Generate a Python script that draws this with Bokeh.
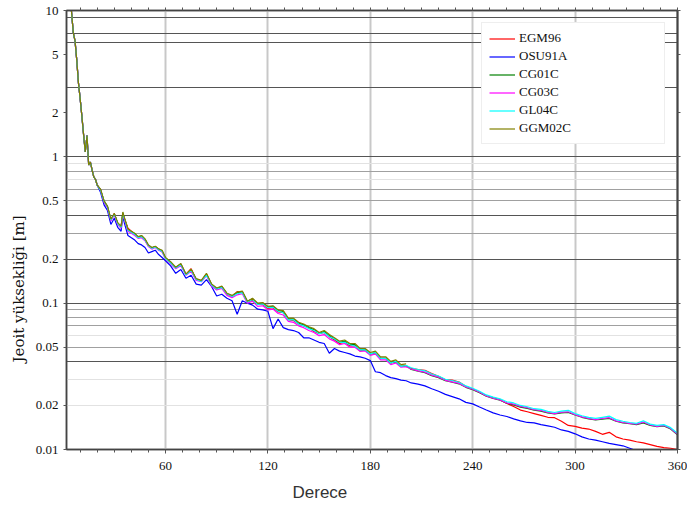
from bokeh.plotting import figure
from bokeh.models import (FixedTicker, LinearAxis, LogAxis, Grid, Legend, LegendItem,
                          Title, Range1d, CustomJSTickFormatter)
from bokeh.embed import file_html
from bokeh.resources import INLINE

# ---------------- data ----------------
deg_low = [2, 3, 4, 5, 6, 7, 8, 9, 10, 11, 12, 13, 14, 15, 16, 17, 18, 19, 20]
val_low = [40, 25, 14, 9.6, 7.0, 6.2, 4.6, 3.2, 2.5, 1.9, 1.42, 1.08, 1.4, 0.88, 0.92,
           0.81, 0.73, 0.70, 0.64]

deg_mid = [22, 24, 26, 28, 30, 32, 34, 35, 36, 38, 40, 42, 44, 46, 48, 50, 52, 54, 56, 58, 60,
           63, 66, 69, 72, 75, 78, 81, 84, 87, 90, 93, 96, 99, 102, 105, 108, 111, 114, 117, 120,
           123, 126, 129, 132, 135, 138, 141, 144, 147, 150, 153, 156, 159, 162, 165, 168, 171,
           174, 177, 180, 183, 186, 189, 192, 195, 198, 201]
deg_high = [204, 208, 212, 216, 220, 224, 228, 232, 236, 240, 244, 248, 252, 256, 260, 264,
            268, 272, 276, 280, 284, 288, 292, 296, 300, 304, 308, 312, 316, 320, 324, 328,
            332, 336, 340, 344, 348, 352, 356, 360]

egm96 = [0.595, 0.49, 0.455, 0.37, 0.41, 0.35, 0.335, 0.41, 0.38, 0.325, 0.31, 0.295, 0.28,
         0.285, 0.27, 0.245, 0.238, 0.243, 0.233, 0.226, 0.203,
         0.187, 0.174, 0.184, 0.157, 0.172, 0.144, 0.142, 0.157, 0.134, 0.124, 0.129, 0.116,
         0.110, 0.12, 0.118, 0.102, 0.105, 0.098, 0.098, 0.092, 0.093, 0.087, 0.086, 0.077,
         0.076, 0.072, 0.070, 0.068, 0.064, 0.062, 0.063, 0.059, 0.056, 0.053, 0.054, 0.051,
         0.051, 0.047, 0.048, 0.045, 0.045, 0.042, 0.042, 0.039, 0.0395, 0.037, 0.037,
         0.0358, 0.0352, 0.0348, 0.0330, 0.0316, 0.0300, 0.0298, 0.0289, 0.0270, 0.0259,
         0.0246, 0.0233, 0.0226, 0.0219, 0.0206, 0.0197, 0.0186, 0.0181, 0.0176, 0.0171,
         0.0166, 0.0165, 0.0156, 0.0146, 0.0144, 0.0140, 0.0138, 0.0133, 0.0127, 0.0131,
         0.0122, 0.0118, 0.0116, 0.0113, 0.0111, 0.0108, 0.0105, 0.0103, 0.0102, 0.0100]

osu91a = [0.57, 0.47, 0.43, 0.345, 0.38, 0.33, 0.31, 0.39, 0.35, 0.29, 0.28, 0.27, 0.255,
          0.25, 0.24, 0.22, 0.225, 0.23, 0.215, 0.205, 0.195,
          0.18, 0.16, 0.17, 0.148, 0.155, 0.135, 0.133, 0.145, 0.13, 0.112, 0.115, 0.108,
          0.104, 0.084, 0.104, 0.1, 0.097, 0.091, 0.09, 0.088, 0.067, 0.078, 0.068, 0.066,
          0.065, 0.063, 0.058, 0.058, 0.056, 0.054, 0.053, 0.0455, 0.049, 0.047, 0.046, 0.045,
          0.0435, 0.043, 0.042, 0.0405, 0.034, 0.0335, 0.032, 0.031, 0.0305, 0.0298, 0.0295,
          0.0285, 0.028, 0.0272, 0.026, 0.025, 0.0238, 0.023, 0.0222, 0.021, 0.0205, 0.0195,
          0.0186, 0.0178, 0.0172, 0.0168, 0.0162, 0.0157, 0.0153, 0.0152, 0.0148, 0.0145,
          0.0142, 0.0136, 0.0133, 0.0128, 0.0122, 0.0118, 0.0116, 0.0113, 0.011, 0.0108,
          0.0106, 0.0102, 0.0098, 0.0096, 0.0094, 0.0092, 0.009, 0.0088, 0.0086]

cg01c = [0.595, 0.50, 0.458, 0.372, 0.408, 0.352, 0.332, 0.415, 0.378, 0.318, 0.308, 0.298,
         0.283, 0.288, 0.273, 0.249, 0.239, 0.244, 0.234, 0.228, 0.204,
         0.19, 0.175, 0.185, 0.157, 0.169, 0.146, 0.142, 0.158, 0.134, 0.126, 0.13, 0.116,
         0.112, 0.118, 0.12, 0.103, 0.107, 0.099, 0.1, 0.094, 0.095, 0.089, 0.088, 0.078,
         0.078, 0.073, 0.071, 0.068, 0.066, 0.062, 0.064, 0.06, 0.057, 0.054, 0.055, 0.052,
         0.052, 0.048, 0.048, 0.045, 0.046, 0.042, 0.042, 0.039, 0.04, 0.037, 0.0375,
         0.0352, 0.0343, 0.0335, 0.0320, 0.0310, 0.0295, 0.0288, 0.0281, 0.0266, 0.0256,
         0.0244, 0.0231, 0.0223, 0.0217, 0.0207, 0.0202, 0.0195, 0.0191, 0.0186, 0.0183,
         0.0178, 0.0175, 0.0178, 0.0179, 0.0172, 0.0166, 0.0162, 0.0159, 0.0161, 0.0163,
         0.0156, 0.0152, 0.0150, 0.0148, 0.0152, 0.0146, 0.0143, 0.0145, 0.0138, 0.0126]

cg03c = [0.59, 0.49, 0.45, 0.365, 0.40, 0.345, 0.325, 0.40, 0.37, 0.31, 0.30, 0.29, 0.277,
         0.28, 0.267, 0.244, 0.234, 0.24, 0.23, 0.224, 0.20,
         0.186, 0.172, 0.18, 0.155, 0.165, 0.143, 0.14, 0.154, 0.131, 0.123, 0.126, 0.113,
         0.109, 0.114, 0.116, 0.100, 0.103, 0.095, 0.096, 0.090, 0.091, 0.085, 0.083, 0.075,
         0.074, 0.070, 0.068, 0.065, 0.063, 0.060, 0.061, 0.057, 0.055, 0.052, 0.053, 0.050,
         0.050, 0.047, 0.047, 0.044, 0.045, 0.041, 0.041, 0.038, 0.039, 0.0365, 0.0368,
         0.0355, 0.0345, 0.0338, 0.0322, 0.0312, 0.0297, 0.0290, 0.0283, 0.0268, 0.0258,
         0.0246, 0.0232, 0.0224, 0.0218, 0.0208, 0.0204, 0.0197, 0.0193, 0.0187, 0.0185,
         0.0179, 0.0176, 0.0180, 0.0181, 0.0173, 0.0167, 0.0163, 0.0160, 0.0163, 0.0165,
         0.0157, 0.0153, 0.0151, 0.0149, 0.0154, 0.0147, 0.0144, 0.0146, 0.0139, 0.0127]

gl04c = [0.59, 0.495, 0.455, 0.37, 0.405, 0.35, 0.33, 0.41, 0.375, 0.315, 0.305, 0.295, 0.28,
         0.285, 0.27, 0.247, 0.237, 0.242, 0.232, 0.226, 0.202,
         0.188, 0.174, 0.183, 0.156, 0.167, 0.145, 0.141, 0.156, 0.133, 0.125, 0.128, 0.116,
         0.111, 0.116, 0.118, 0.102, 0.106, 0.098, 0.099, 0.093, 0.094, 0.088, 0.086, 0.077,
         0.077, 0.072, 0.070, 0.067, 0.065, 0.062, 0.063, 0.059, 0.057, 0.054, 0.054, 0.052,
         0.051, 0.048, 0.048, 0.045, 0.046, 0.042, 0.042, 0.039, 0.040, 0.037, 0.0375,
         0.0362, 0.0352, 0.0345, 0.0328, 0.0318, 0.0302, 0.0296, 0.0288, 0.0272, 0.0262,
         0.0250, 0.0236, 0.0228, 0.0222, 0.0212, 0.0208, 0.0200, 0.0196, 0.0190, 0.0188,
         0.0182, 0.0179, 0.0183, 0.0185, 0.0176, 0.0170, 0.0166, 0.0163, 0.0166, 0.0169,
         0.0160, 0.0156, 0.0153, 0.0151, 0.0157, 0.0149, 0.0146, 0.0148, 0.0141, 0.0129]

ggm02c = [0.60, 0.50, 0.46, 0.375, 0.41, 0.355, 0.335, 0.42, 0.38, 0.32, 0.31, 0.30, 0.285,
          0.29, 0.275, 0.25, 0.24, 0.245, 0.235, 0.23, 0.205,
          0.192, 0.176, 0.187, 0.158, 0.171, 0.147, 0.143, 0.160, 0.135, 0.127, 0.131, 0.117,
          0.113, 0.119, 0.121, 0.103, 0.108, 0.100, 0.101, 0.095, 0.096, 0.090, 0.089, 0.079,
          0.079, 0.074, 0.072, 0.069, 0.067, 0.063, 0.065, 0.061, 0.058, 0.055, 0.056, 0.053,
          0.053, 0.049, 0.049, 0.046, 0.047, 0.043, 0.043, 0.040, 0.041, 0.038, 0.0385]

series_names = ["EGM96", "OSU91A", "CG01C", "CG03C", "GL04C", "GGM02C"]

x_major = [60, 120, 180, 240, 300, 360]
x_minor = [10, 20, 30, 40, 50, 70, 80, 90, 100, 110, 130, 140, 150, 160, 170, 190, 200, 210,
           220, 230, 250, 260, 270, 280, 290, 310, 320, 330, 340, 350]
y_major = [0.01, 0.02, 0.05, 0.1, 0.2, 0.5, 1, 2, 5, 10]

# ---------------- figure ----------------
p = figure(width=687, height=512, y_axis_type="log",
           x_range=Range1d(2, 360), y_range=Range1d(0.01, 10),
           output_backend="svg", toolbar_location=None,
           min_border_left=66, min_border_right=10, min_border_top=10, min_border_bottom=63,
           background_fill_color="white", border_fill_color="white")
p.outline_line_color = "#444444"
p.outline_line_width = 1.5

# grids
p.xgrid.ticker = FixedTicker(ticks=[60, 120, 180, 240, 300])
p.xgrid.grid_line_color = "#c8c8c8"
p.xgrid.grid_line_width = 2
p.ygrid.visible = False
grid_dark = [9, 7, 6, 3, 1, 0.4, 0.2, 0.1, 0.04]
grid_mid = [0.8, 0.6, 0.5, 0.3, 0.09, 0.08, 0.07, 0.05]
grid_light = [0.9, 0.7, 0.06, 0.03, 0.02]
for ticks, col in [(grid_light, "#e2e2e2"), (grid_mid, "#a0a0a0"), (grid_dark, "#555555")]:
    g = Grid(dimension=1, ticker=FixedTicker(ticks=ticks), grid_line_color=col,
             grid_line_width=1)
    p.add_layout(g)

tick_font = "Liberation Serif"

xa = p.xaxis[0]
xa.ticker = FixedTicker(ticks=x_major, minor_ticks=x_minor)
xa.axis_line_color = "#444444"
xa.axis_line_width = 1.5
xa.major_tick_out = 4
xa.major_tick_in = 0
xa.minor_tick_out = 3
xa.minor_tick_in = 0
xa.major_tick_line_color = "#555555"
xa.minor_tick_line_color = "#555555"
xa.major_label_text_font = tick_font
xa.major_label_text_font_size = "13px"
xa.major_label_text_color = "#111111"
xa.major_label_standoff = 8

ya = p.yaxis[0]
ya.ticker = FixedTicker(ticks=y_major, minor_ticks=[])
ya.formatter = CustomJSTickFormatter(code="return String(tick);")
ya.axis_line_color = "#444444"
ya.axis_line_width = 1.5
ya.major_tick_out = 3
ya.major_tick_in = 0
ya.minor_tick_out = 0
ya.major_tick_line_color = "#555555"
ya.major_label_text_font = tick_font
ya.major_label_text_font_size = "13px"
ya.major_label_text_color = "#111111"
ya.major_label_standoff = 5

top = LinearAxis(ticker=FixedTicker(ticks=x_major, minor_ticks=x_minor),
                 major_label_text_font_size="0px", major_label_standoff=0,
                 axis_line_color="#444444", axis_line_width=1.5,
                 major_tick_out=3, major_tick_in=0, minor_tick_out=3, minor_tick_in=0,
                 major_tick_line_color="#555555", minor_tick_line_color="#555555")
p.add_layout(top, "above")
right = LogAxis(ticker=FixedTicker(ticks=y_major, minor_ticks=[]),
                major_label_text_font_size="0px", major_label_standoff=0,
                axis_line_color="#444444", axis_line_width=2,
                major_tick_out=3, major_tick_in=0, minor_tick_out=0,
                major_tick_line_color="#555555")
p.add_layout(right, "right")

# lines
lw = 1.2
r_blue = p.line(deg_low + deg_mid + deg_high, val_low + osu91a, line_color="#0000ff", line_width=lw)
r_red = p.line(deg_low + deg_mid + deg_high, val_low + egm96, line_color="#ff0000", line_width=lw)
r_green = p.line(deg_low + deg_mid + deg_high, val_low + cg01c, line_color="#008000", line_width=lw)
r_mag = p.line(deg_low + deg_mid + deg_high, val_low + cg03c, line_color="#ff00ff", line_width=lw)
r_cyan = p.line(deg_low + deg_mid + deg_high, val_low + gl04c, line_color="#00ffff", line_width=lw)
r_olive = p.line(deg_low + deg_mid, val_low + ggm02c, line_color="#808000", line_width=lw)

renderers = [r_red, r_blue, r_green, r_mag, r_cyan, r_olive]
legend = Legend(items=[LegendItem(label=n, renderers=[r]) for n, r in zip(series_names, renderers)],
                location="top_right", margin=12, padding=7, spacing=2,
                glyph_width=26, glyph_height=15, label_height=15, label_standoff=4,
                label_width=138, label_text_font="Liberation Serif",
                label_text_font_size="13px", label_text_color="#111111",
                border_line_color="#dddddd", border_line_width=1,
                background_fill_color="white", background_fill_alpha=1.0)
p.add_layout(legend)

# axis titles
xt = Title(text="Derece", align="left", offset=226, text_font="Liberation Sans",
           text_font_size="17px", text_font_style="normal", text_color="#333333",
           standoff=17)
p.add_layout(xt, "below")
yt = Title(text="Jeoit yüksekliği [m]", align="left", offset=87, text_font="DejaVu Serif",
           text_font_size="15px", text_font_style="normal", text_color="#111111")
p.add_layout(yt, "left")

open("out.html", "w").write(file_html(p, INLINE))
